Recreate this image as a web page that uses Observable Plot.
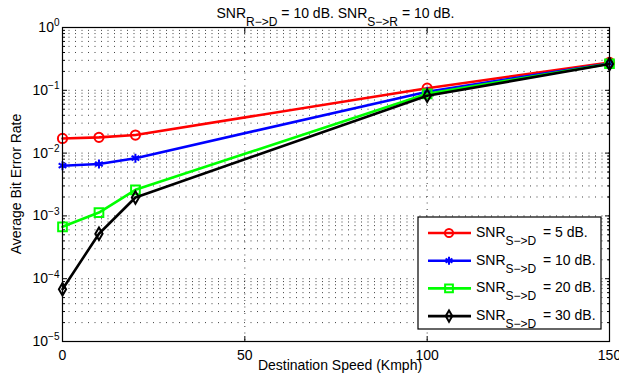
<!DOCTYPE html>
<html><head><meta charset="utf-8">
<script src="https://cdn.jsdelivr.net/npm/d3@7"></script>
<script src="https://cdn.jsdelivr.net/npm/@observablehq/plot@0.6"></script>
<style>body{margin:0;background:#fff} svg{font-family:"Liberation Sans",Arial,sans-serif}</style>
</head><body><div id="chart"></div>
<script>
const speeds = [0, 10, 20, 100, 150];
const seriesSuffix = ["= 5 dB.", "= 10 dB.", "= 20 dB.", "= 30 dB."];
const ber5 = [0.0171, 0.0178, 0.0194, 0.108, 0.278];
const ber10 = [0.0063, 0.0067, 0.0083, 0.095, 0.268];
const ber20 = [0.00067, 0.00113, 0.0026, 0.088, 0.265];
const ber30 = [0.000068, 0.00052, 0.00196, 0.082, 0.262];
const colors = ["#ff0000", "#0000ff", "#00ff00", "#000000"];
const symbols = ["circle", "asterisk", "square", "diamond"];
const symbolR = [4.6, 4.2, 4.9, 3.8];
const xTicks = [0, 50, 100, 150];
const xGrid = [50, 100];
const yMajor = [1e-5, 1e-4, 1e-3, 1e-2, 1e-1, 1];
const yMinor = [];
for (let e = -5; e < 0; e++) for (let m = 2; m <= 9; m++) yMinor.push(m * Math.pow(10, e));
const yAll = yMajor.concat(yMinor);

const series = [ber5, ber10, ber20, ber30];
const rows = series.flatMap((vals, s) => speeds.map((x, i) => ({x, y: vals[i], s})));

const W = 619, H = 375, ML = 62, MR = 10, MT = 27, MB = 34;
const FONT = '"Liberation Sans", Arial, sans-serif';

const seriesMarks = series.flatMap((vals, s) => {
  const d = rows.filter(r => r.s === s);
  return [
    Plot.line(d, {x: "x", y: "y", stroke: colors[s], strokeWidth: 2.6}),
    Plot.dot(d, {x: "x", y: "y", stroke: colors[s], fill: "none", strokeWidth: 2, symbol: symbols[s], r: symbolR[s]})
  ];
});

const plot = Plot.plot({
  width: W, height: H,
  marginLeft: ML, marginRight: MR, marginTop: MT, marginBottom: MB,
  x: {domain: [0, 150]},
  y: {type: "log", domain: [1e-5, 1]},
  style: {fontFamily: FONT, fontSize: "14px", background: "white", color: "black"},
  marks: [
    Plot.gridY(yAll, {stroke: "#000", strokeOpacity: 0.75, strokeDasharray: "1,5.5", strokeWidth: 1}),
    Plot.gridX(xGrid, {stroke: "#000", strokeOpacity: 0.75, strokeDasharray: "1,5.5", strokeWidth: 1}),
    Plot.axisY(yMajor, {anchor: "left", tickSize: 0, tickPadding: 3, tickFormat: d => "10^" + Math.round(Math.log10(d)), label: null, fontSize: 14}),
    Plot.axisY(yMajor, {anchor: "left", tickSize: -5, tickFormat: () => "", label: null}),
    Plot.axisY(yMinor, {anchor: "left", tickSize: -3, tickFormat: () => "", label: null}),
    Plot.axisY(yMajor, {anchor: "right", tickSize: -5, tickFormat: () => "", label: null}),
    Plot.axisY(yMinor, {anchor: "right", tickSize: -3, tickFormat: () => "", label: null}),
    Plot.axisX(xTicks, {anchor: "bottom", tickSize: 0, tickPadding: 9, label: null, fontSize: 14}),
    Plot.axisX(xTicks, {anchor: "bottom", tickSize: -5, tickFormat: () => "", label: null}),
    Plot.axisX(xTicks, {anchor: "top", tickSize: -5, tickFormat: () => "", label: null}),
    ...seriesMarks,
    Plot.frame({stroke: "black", strokeWidth: 1.2})
  ]
});
document.getElementById("chart").append(plot);

const svg = d3.select(plot);
// superscript exponents on y tick labels
svg.selectAll('g[aria-label="y-axis tick label"] text').each(function() {
  const t = this.textContent;
  if (!t.includes("^")) return;
  const [base, exp] = t.split("^");
  const el = d3.select(this);
  el.text(base);
  el.append("tspan").attr("dy", "-0.55em").attr("font-size", "10px").text(exp.replace("-", "\u2212"));
});

function subText(g, x, y, parts, anchor, size, subSize) {
  const t = g.append("text").attr("x", x).attr("y", y).attr("text-anchor", anchor)
    .attr("font-family", FONT).attr("font-size", size).attr("fill", "black");
  let shifted = false;
  parts.forEach(p => {
    const ts = t.append("tspan").text(p.text);
    if (p.sub && !shifted) { ts.attr("dy", 8).attr("font-size", subSize); shifted = true; }
    else if (!p.sub && shifted) { ts.attr("dy", -8); shifted = false; }
  });
  return t;
}

const cx = (ML + (W - MR)) / 2;
// title
subText(svg, cx, 18, [
  {text: "SNR"}, {text: "R\u2212>D", sub: true}, {text: " = 10 dB. SNR"}, {text: "S\u2212>R", sub: true}, {text: " = 10 dB."}
], "middle", 14, 12);

// axis labels
svg.append("text").attr("x", 340).attr("y", 370).attr("text-anchor", "middle")
  .attr("font-family", FONT).attr("font-size", 14).text("Destination Speed (Kmph)");
svg.append("text").attr("transform", "translate(21,184) rotate(-90)").attr("text-anchor", "middle")
  .attr("font-family", FONT).attr("font-size", 14).text("Average Bit Error Rate");

// legend
const lg = svg.append("g");
lg.append("rect").attr("x", 418).attr("y", 217).attr("width", 183).attr("height", 112)
  .attr("fill", "white").attr("stroke", "black").attr("stroke-width", 1.2);
const d3sym = {circle: d3.symbolCircle, asterisk: d3.symbolAsterisk, square: d3.symbolSquare, diamond: d3.symbolDiamond};
seriesSuffix.forEach((label, s) => {
  const base = 237 + s * 27.7;
  const ly = base - 4;
  lg.append("line").attr("x1", 428).attr("x2", 471).attr("y1", ly).attr("y2", ly)
    .attr("stroke", colors[s]).attr("stroke-width", 2.6);
  lg.append("path").attr("d", d3.symbol(d3sym[symbols[s]], Math.PI * symbolR[s] * symbolR[s] * 0.8)())
    .attr("transform", `translate(449,${ly})`).attr("fill", "none").attr("stroke", colors[s]).attr("stroke-width", 2);
  subText(lg, 476, base, [{text: "SNR"}, {text: "S\u2212>D", sub: true}], "start", 14, 12);
  lg.append("text").attr("x", 543).attr("y", base).attr("text-anchor", "start")
    .attr("font-family", FONT).attr("font-size", 14).attr("fill", "black").text(label);
});
</script>
</body></html>
